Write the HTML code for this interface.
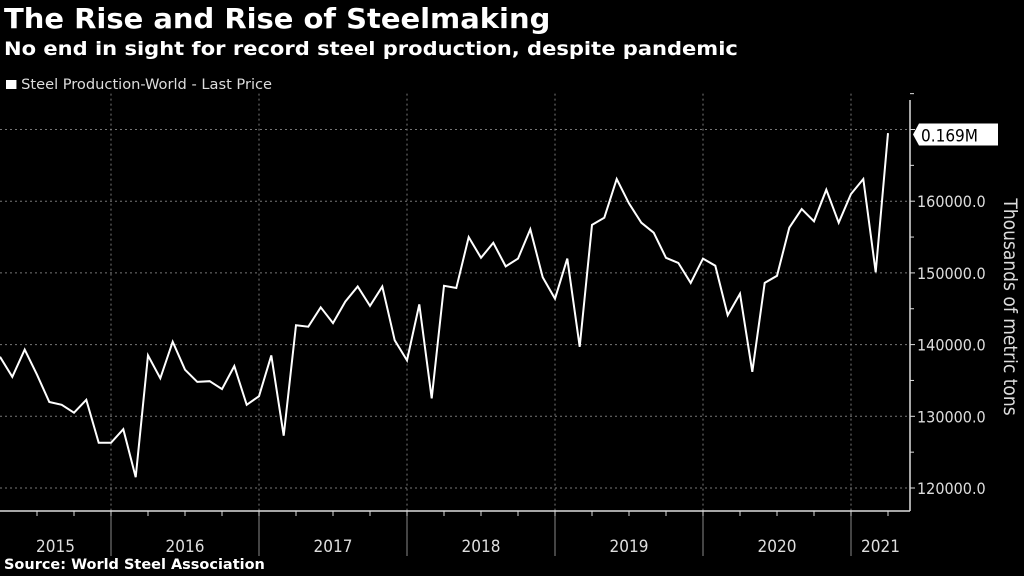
<!DOCTYPE html>
<html><head><meta charset="utf-8"><style>
html,body{margin:0;padding:0;background:#000;}
body{width:1024px;height:576px;overflow:hidden;position:relative;font-family:"DejaVu Sans Condensed","Liberation Sans",sans-serif;color:#fff;}
.t{position:absolute;white-space:nowrap;transform-origin:0 0;}
</style></head><body>
<div class="t" style="left:4px;top:2px;font-size:28px;font-weight:bold;transform:scaleX(1.15);">The Rise and Rise of Steelmaking</div>
<div class="t" style="left:4px;top:38px;font-size:19px;font-weight:bold;transform:scaleX(1.23);">No end in sight for record steel production, despite pandemic</div>
<div class="t" style="left:6px;top:77px;font-size:14px;color:#ddd;transform:scaleX(1.16);"><span style="display:inline-block;width:9px;height:9px;background:#fff;margin-right:4px;"></span>Steel Production-World - Last Price</div>
<svg id="chart" width="1024" height="576" style="position:absolute;left:0;top:0;"></svg>
<div class="t" style="left:4px;top:557px;font-size:14px;font-weight:bold;transform:scaleX(1.15);">Source: World Steel Association</div>
<script>
const values2015=[138300,135500,139300,135800,132000,131600,130500,132300,126300];
const values2016=[126300,128200,121500,138500,135300,140400,136500,134800,134900,133800,137000,131600];
const values2017=[132800,138500,127300,142700,142500,145200,143000,146000,148100,145400,148100,140600];
const values2018=[137800,145600,132500,148200,147900,155000,152100,154200,150900,152000,156100,149400];
const values2019=[146400,152000,139700,156700,157700,163100,159700,157000,155600,152100,151400,148600];
const values2020=[152000,151000,144100,147100,136200,148600,149600,156300,158900,157200,161600,157000];
const values2021=[161000,163100,150100,169500];
const yTicks=[120000,130000,140000,150000,160000,170000];
const years=["2015","2016","2017","2018","2019","2020","2021"];
const startMonth=3; // April 2015
const lastLabel="0.169M";

const NS="http://www.w3.org/2000/svg";
const svg=document.getElementById('chart');
const series=[].concat(values2015,values2016,values2017,values2018,values2019,values2020,values2021);
const monthW=148/12, jan2015=111-148;
function x(m){return jan2015+m*monthW;}
function y(v){return 488-(v-120000)*71.7/10000;}
function mk(tag,attrs){const e=document.createElementNS(NS,tag);for(const k in attrs)e.setAttribute(k,attrs[k]);svg.appendChild(e);return e;}
const axisX=910, axisY=511;
yTicks.forEach(v=>{
  const g=mk('line',{x1:0,x2:axisX,y1:y(v),y2:y(v),stroke:'#777','stroke-dasharray':'2,3','stroke-width':1});
  
  
  const tk=mk('line',{x1:axisX,x2:axisX+5,y1:y(v),y2:y(v),stroke:'#ddd'});
  
  
  const mt=mk('line',{x1:axisX,x2:axisX+4,y1:y(v+5000),y2:y(v+5000),stroke:'#ddd'});
  
  
  const t=mk('text',{x:axisX+7,y:y(v)+6,fill:'#ddd','font-size':16,'font-family':'"DejaVu Sans Condensed","Liberation Sans",sans-serif'});
  t.textContent=v.toFixed(1);
  
  
});
years.forEach((yr,i)=>{
  const xs=x(12*i);
  if(i>0){const l=mk('line',{x1:xs,x2:xs,y1:y(175000),y2:axisY,stroke:'#777','stroke-dasharray':'2,3'});
  
  
  const s=mk('line',{x1:xs,x2:xs,y1:axisY,y2:556,stroke:'#888'});
  
  }
  for(let q=0;q<4;q++){const qx=x(12*i+3*q);if(qx>0&&qx<axisX){const qt=mk('line',{x1:qx,x2:qx,y1:axisY,y2:axisY+5,stroke:'#ddd'});
  
  }}
  const a=Math.max(0,xs), b=Math.min(axisX,x(12*i+12));
  const t=mk('text',{x:(a+b)/2,y:552,fill:'#ddd','font-size':17,'text-anchor':'middle','font-family':'"DejaVu Sans Condensed","Liberation Sans",sans-serif'});
  t.textContent=yr;
  
  
});
const ax=mk('line',{x1:0,x2:axisX,y1:axisY,y2:axisY,stroke:'#ddd','stroke-width':1.5});


const ay=mk('line',{x1:axisX,x2:axisX,y1:100,y2:axisY,stroke:'#ddd','stroke-width':1.5});


const pts=series.map((v,i)=>x(startMonth+i).toFixed(1)+','+y(v).toFixed(1)).join(' ');
const pl=mk('polyline',{points:pts,fill:'none',stroke:'#fff','stroke-width':2,'stroke-linejoin':'miter'});


const ly=y(170000);
const box=mk('polygon',{points:`${axisX+3},${ly+5} ${axisX+9},${ly-6} ${998},${ly-6} 998,${ly+16} ${axisX+9},${ly+16}`,fill:'#fff'});


const lt=mk('text',{x:axisX+11,y:ly+12,fill:'#000','font-size':17,'font-family':'"DejaVu Sans Condensed","Liberation Sans",sans-serif'});
lt.textContent=lastLabel;


const yt=mk('text',{x:0,y:0,fill:'#ddd','font-size':19,'text-anchor':'middle',transform:'translate(1004,307) rotate(90)','font-family':'"DejaVu Sans Condensed","Liberation Sans",sans-serif'});
yt.textContent='Thousands of metric tons';


</script>
</body></html>
